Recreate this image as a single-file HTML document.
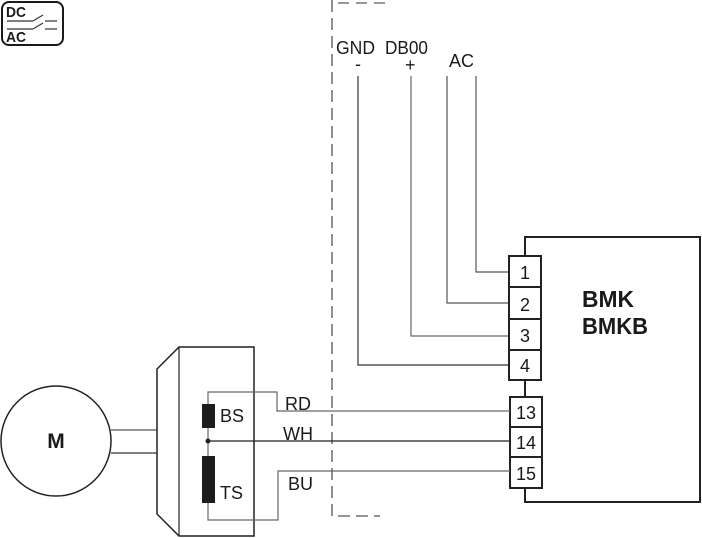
<!DOCTYPE html>
<html><head><meta charset="utf-8"><style>
html,body{margin:0;padding:0;background:#fff;}
svg{display:block;font-family:"Liberation Sans",Arial,sans-serif;}
</style></head><body>
<svg width="702" height="538" viewBox="0 0 702 538" xmlns="http://www.w3.org/2000/svg">
<!-- DC/AC icon -->
<rect x="2" y="2" width="61" height="43" rx="7" fill="none" stroke="#1a1a1a" stroke-width="2"/>
<text x="6" y="17" font-size="15" font-weight="bold" fill="#1a1a1a" textLength="20" lengthAdjust="spacingAndGlyphs">DC</text>
<text x="6" y="42" font-size="15" font-weight="bold" fill="#1a1a1a" textLength="20" lengthAdjust="spacingAndGlyphs">AC</text>
<line x1="7" y1="21" x2="33" y2="21" stroke="#333" stroke-width="1.2"/>
<line x1="7" y1="29" x2="33" y2="29" stroke="#333" stroke-width="1.2"/>
<line x1="33" y1="21" x2="43" y2="15" stroke="#333" stroke-width="1.2"/>
<line x1="33" y1="29" x2="43" y2="23" stroke="#333" stroke-width="1.2"/>
<line x1="45" y1="21" x2="57" y2="21" stroke="#333" stroke-width="1.2"/>
<line x1="45" y1="29" x2="57" y2="29" stroke="#333" stroke-width="1.2"/>

<!-- dashed boundary -->
<path d="M332 0 V516 H380" fill="none" stroke="#555" stroke-width="1.3" stroke-dasharray="12,6"/>
<path d="M338 3 H392" fill="none" stroke="#777" stroke-width="1.5" stroke-dasharray="11,7"/>

<!-- top labels -->
<g font-size="18" fill="#1a1a1a">
<text x="336" y="54" textLength="39" lengthAdjust="spacingAndGlyphs">GND</text>
<text x="355" y="70">-</text>
<text x="385" y="54" textLength="43" lengthAdjust="spacingAndGlyphs">DB00</text>
<text x="405" y="71">+</text>
<text x="449" y="67" textLength="25" lengthAdjust="spacingAndGlyphs">AC</text>
</g>

<!-- signal wires -->
<g fill="none" stroke-width="1.2">
<path d="M476 76 V272 H510" stroke="#555"/>
<path d="M447 76 V303 H510" stroke="#555"/>
<path d="M411 76 V336 H510" stroke="#666"/>
<path d="M358 76 V365 H510" stroke="#333"/>
</g>

<!-- BMK box -->
<path d="M525 256 V237 H700 V502 H525 V488" fill="none" stroke="#222" stroke-width="2"/>
<line x1="525" y1="380" x2="525" y2="397" stroke="#222" stroke-width="2"/>
<text x="582" y="307" font-size="23" font-weight="bold" fill="#1a1a1a" textLength="52" lengthAdjust="spacingAndGlyphs">BMK</text>
<text x="582" y="334" font-size="23" font-weight="bold" fill="#1a1a1a" textLength="66" lengthAdjust="spacingAndGlyphs">BMKB</text>

<!-- terminals -->
<g fill="#fff" stroke="#222" stroke-width="2">
<rect x="509" y="256" width="32" height="31"/>
<rect x="509" y="287" width="32" height="32"/>
<rect x="509" y="319" width="32" height="31"/>
<rect x="509" y="350" width="32" height="30"/>
<rect x="510" y="397" width="32" height="30"/>
<rect x="510" y="427" width="32" height="30"/>
<rect x="510" y="457" width="32" height="31"/>
</g>
<g font-size="18" fill="#1a1a1a" text-anchor="middle">
<text x="525" y="279">1</text>
<text x="525" y="311">2</text>
<text x="525" y="342">3</text>
<text x="525" y="372">4</text>
<text x="526" y="419">13</text>
<text x="526" y="449">14</text>
<text x="526" y="480">15</text>
</g>

<!-- motor -->
<circle cx="56" cy="441" r="55" fill="none" stroke="#222" stroke-width="1.5"/>
<text x="56" y="448" font-size="21" font-weight="bold" fill="#1a1a1a" text-anchor="middle">M</text>
<line x1="111" y1="430" x2="157" y2="430" stroke="#555" stroke-width="1.2"/>
<line x1="111" y1="453" x2="157" y2="453" stroke="#333" stroke-width="1.2"/>

<!-- enclosure -->
<polygon points="179,347 157,369 157,514 179,536 254,536 254,347" fill="none" stroke="#222" stroke-width="1.5"/>
<line x1="179" y1="347" x2="179" y2="536" stroke="#222" stroke-width="1.2"/>

<!-- internal wiring -->
<g fill="none" stroke-width="1.2">
<path d="M510 411 H277 V392 H208 V520 H278 V471 H510" stroke="#666"/>
<path d="M208 441 H510" stroke="#222"/>
</g>
<circle cx="208" cy="441" r="2.5" fill="#222"/>
<rect x="202" y="404" width="13" height="24" fill="#1a1d1c"/>
<rect x="202" y="456" width="13" height="47" fill="#1a1d1c"/>
<g font-size="18" fill="#1a1a1a">
<text x="220" y="422">BS</text>
<text x="220" y="499">TS</text>
<text x="285" y="410">RD</text>
<text x="283" y="440">WH</text>
<text x="288" y="490">BU</text>
</g>
</svg>
</body></html>
